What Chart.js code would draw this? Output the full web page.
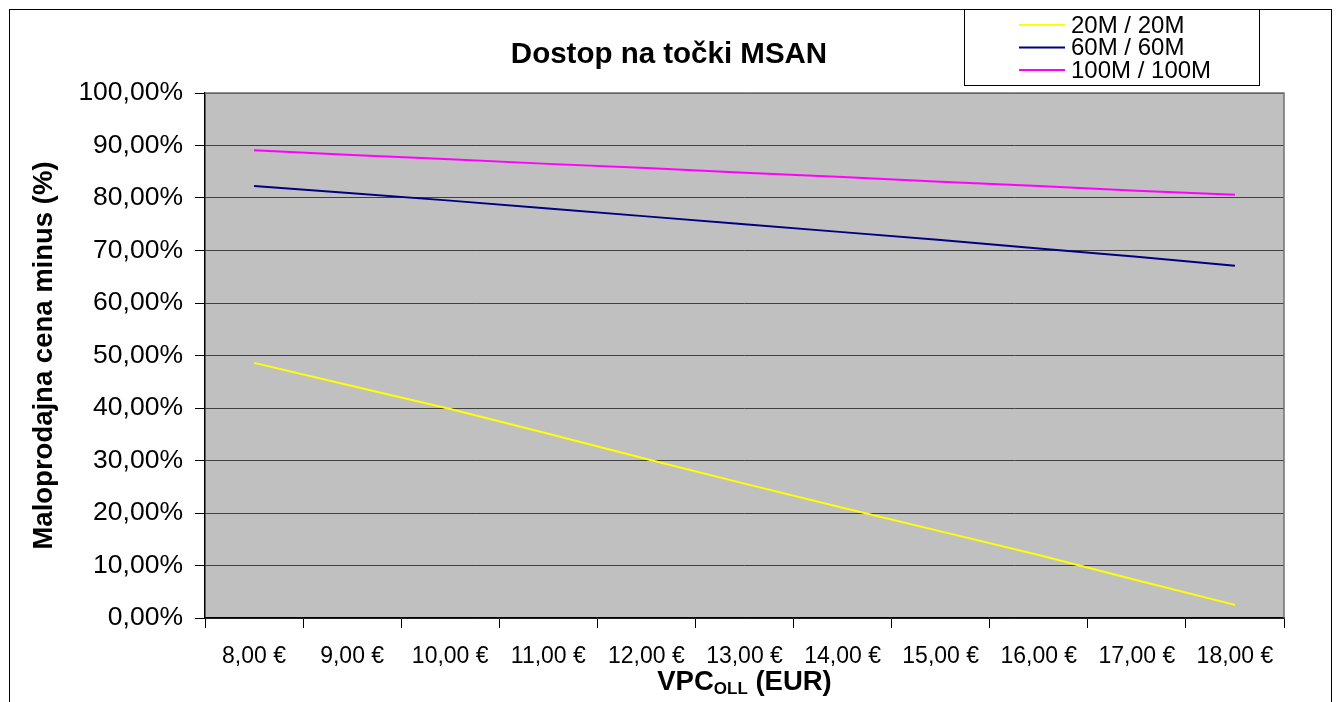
<!DOCTYPE html>
<html>
<head>
<meta charset="utf-8">
<script src="https://cdn.jsdelivr.net/npm/chart.js@4/dist/chart.umd.min.js"></script>
<style>
  html, body { margin: 0; padding: 0; background: #fff; }
  #wrap { width: 1336px; height: 702px; }
</style>
</head>
<body>
<div id="wrap"><canvas id="chart" width="1336" height="702"></canvas></div>
<script>
// values (percent)
const categories = ['8,00 €', '9,00 €', '10,00 €', '11,00 €', '12,00 €', '13,00 €',
  '14,00 €', '15,00 €', '16,00 €', '17,00 €', '18,00 €'];
const series20 = [48.6, 44.2, 39.8, 35.1, 30.3, 25.6, 21.0, 16.5, 12.0, 7.2, 2.5];
const series60 = [82.3, 80.9, 79.5, 78.0, 76.5, 75.0, 73.5, 72.0, 70.4, 68.8, 67.1];
const series100 = [89.1, 88.2, 87.4, 86.5, 85.7, 84.8, 84.0, 83.1, 82.3, 81.4, 80.6];
const seriesNames = ['20M / 20M', '60M / 60M', '100M / 100M'];
const seriesColors = ['#ffff00', '#000080', '#ff00ff'];

const FONT = "'Liberation Sans', Arial, Helvetica, sans-serif";

const decor = {
  id: 'decor',
  beforeDraw(chart) {
    const { ctx, chartArea: a } = chart;
    ctx.save();
    ctx.fillStyle = '#fff';
    ctx.fillRect(0, 0, chart.width, chart.height);
    ctx.fillStyle = '#c0c0c0';
    ctx.fillRect(a.left, a.top, a.right - a.left, a.bottom - a.top);
    ctx.restore();
  },
  afterDraw(chart) {
    const { ctx, chartArea: a } = chart;
    ctx.save();

    // plot frame
    ctx.strokeStyle = '#707070';
    ctx.lineWidth = 1.5;
    ctx.beginPath();
    ctx.moveTo(a.left, a.top);
    ctx.lineTo(a.right, a.top);
    ctx.lineTo(a.right, a.bottom);
    ctx.stroke();

    // outer border
    ctx.strokeStyle = '#000';
    ctx.lineWidth = 1;
    ctx.strokeRect(9.5, 9.5, 1322, 710);

    // title
    ctx.fillStyle = '#000';
    ctx.font = 'bold 29.5px ' + FONT;
    ctx.textAlign = 'center';
    ctx.textBaseline = 'alphabetic';
    ctx.fillText('Dostop na točki MSAN', 669, 63);

    // x axis title with subscript
    const big = 'bold 27.5px ' + FONT, small = 'bold 17px ' + FONT;
    ctx.textAlign = 'left';
    ctx.font = big;
    const w1 = ctx.measureText('VPC').width;
    const w3 = ctx.measureText(' (EUR)').width;
    ctx.font = small;
    const w2 = ctx.measureText('OLL').width;
    let x = (a.left + a.right) / 2 - (w1 + w2 + w3) / 2;
    ctx.font = big;
    ctx.fillText('VPC', x, 690);
    ctx.font = small;
    ctx.fillText('OLL', x + w1, 694);
    ctx.font = big;
    ctx.fillText(' (EUR)', x + w1 + w2, 690);

    // legend
    ctx.fillStyle = '#fff';
    ctx.fillRect(964.5, 9.5, 295, 76);
    ctx.strokeStyle = '#000';
    ctx.strokeRect(964.5, 9.5, 295, 76);
    ctx.font = '24px ' + FONT;
    ctx.textBaseline = 'middle';
    chart.data.datasets.forEach((ds, i) => {
      const y = 25 + i * 22.5;
      ctx.strokeStyle = ds.borderColor;
      ctx.lineWidth = 2;
      ctx.beginPath();
      ctx.moveTo(1019, y);
      ctx.lineTo(1065, y);
      ctx.stroke();
      ctx.fillStyle = '#000';
      ctx.fillText(ds.label, 1071, y + 1);
    });
    ctx.restore();
  }
};

const datasets = [series20, series60, series100].map((d, i) => ({
  label: seriesNames[i],
  data: d,
  borderColor: seriesColors[i],
  backgroundColor: seriesColors[i],
  borderWidth: 2,
  pointRadius: 0,
  tension: 0,
  fill: false
}));

new Chart(document.getElementById('chart'), {
  type: 'line',
  data: { labels: categories, datasets },
  plugins: [decor],
  options: {
    responsive: false,
    animation: false,
    devicePixelRatio: 1,
    layout: { padding: { top: 93, right: 52, left: 0, bottom: 0 } },
    plugins: {
      legend: { display: false },
      title: { display: false },
      tooltip: { enabled: false }
    },
    scales: {
      x: {
        offset: true,
        afterFit(s) { s.height = 84; },
        grid: { offset: true, drawOnChartArea: false, tickLength: 10, tickColor: '#000' },
        border: { color: '#000', width: 1.5 },
        ticks: { color: '#000', font: { family: FONT, size: 23 }, padding: 15, maxRotation: 0, autoSkip: false }
      },
      y: {
        min: 0,
        max: 100,
        afterFit(s) { s.width = 205; },
        grid: { color: '#404040', lineWidth: 1, tickLength: 10, tickColor: '#000' },
        border: { color: '#000', width: 1.5 },
        ticks: {
          stepSize: 10,
          color: '#000',
          padding: 12,
          font: { family: FONT, size: 26.5 },
          callback: v => v.toFixed(2).replace('.', ',') + '%'
        },
        title: {
          display: true,
          text: 'Maloprodajna cena minus (%)',
          color: '#000',
          font: { family: FONT, size: 27.5, weight: 'bold' },
          padding: { top: 28 }
        }
      }
    }
  }
});
</script>
</body>
</html>
